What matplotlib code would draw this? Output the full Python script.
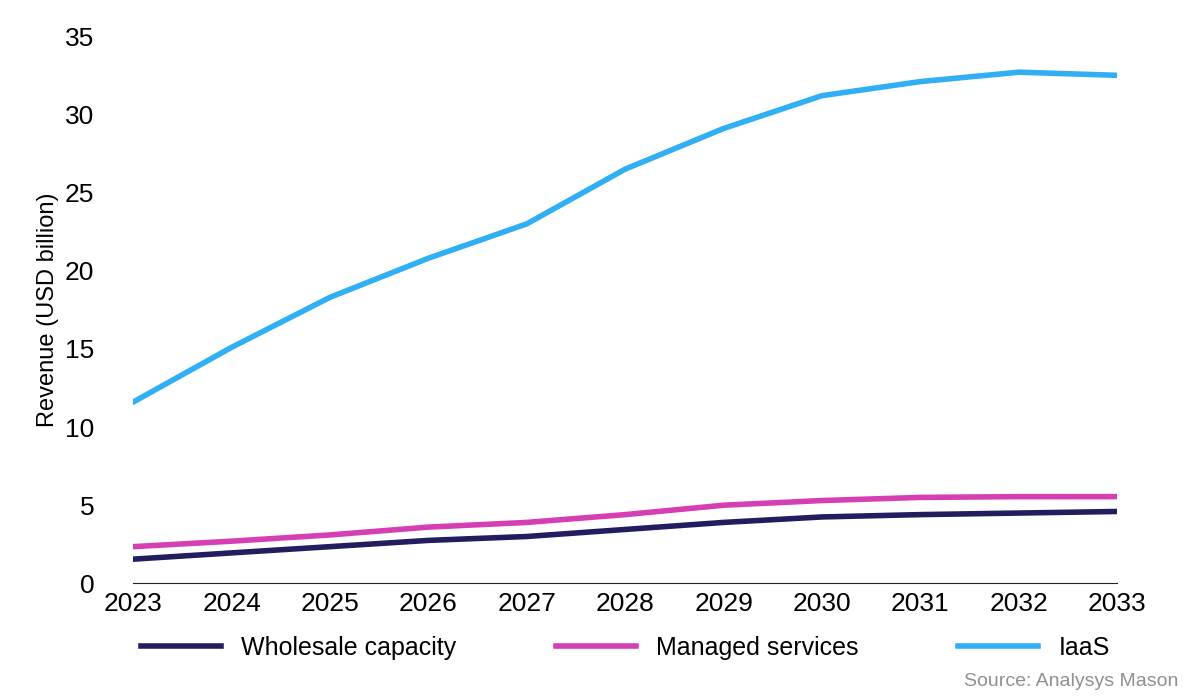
import matplotlib
matplotlib.use("Agg")
import matplotlib.pyplot as plt

years = list(range(2023, 2034))
wholesale = [1.55, 1.95, 2.35, 2.75, 3.0, 3.45, 3.9, 4.25, 4.4, 4.5, 4.6]
managed = [2.35, 2.7, 3.1, 3.6, 3.9, 4.4, 5.0, 5.3, 5.5, 5.55, 5.55]
iaas = [11.6, 15.1, 18.3, 20.8, 23.0, 26.5, 29.1, 31.2, 32.1, 32.7, 32.5]

plt.rcParams['font.family'] = ['Liberation Sans', 'DejaVu Sans']
fig = plt.figure(figsize=(12, 6.97), dpi=100)
ax = fig.add_axes([0.111, 0.163, 0.82, 0.785])
ax.plot(years, wholesale, color='#211d5e', lw=4, label='Wholesale capacity')
ax.plot(years, managed, color='#d63fb4', lw=4, label='Managed services')
ax.plot(years, iaas, color='#30aff5', lw=4, label='IaaS')
ax.set_xlim(2023, 2033)
ax.set_ylim(0, 35)
ax.set_yticks(range(0, 36, 5))
ax.set_xticks(years)
for s in ['top', 'right', 'left']:
    ax.spines[s].set_visible(False)
ax.spines['bottom'].set_color('#222222')
ax.tick_params(length=0, labelsize=19, pad=6)
ax.tick_params(axis='y', pad=28)
ax.set_ylabel('Revenue (USD billion)', fontsize=17)
ax.legend(loc='upper center', bbox_to_anchor=(0.5, -0.055), ncol=3, frameon=False,
          fontsize=18, handlelength=3.2, columnspacing=4)
fig.text(0.982, 0.01, 'Source: Analysys Mason', ha='right', va='bottom', fontsize=14, color='#909090')
fig.savefig('out.png')
